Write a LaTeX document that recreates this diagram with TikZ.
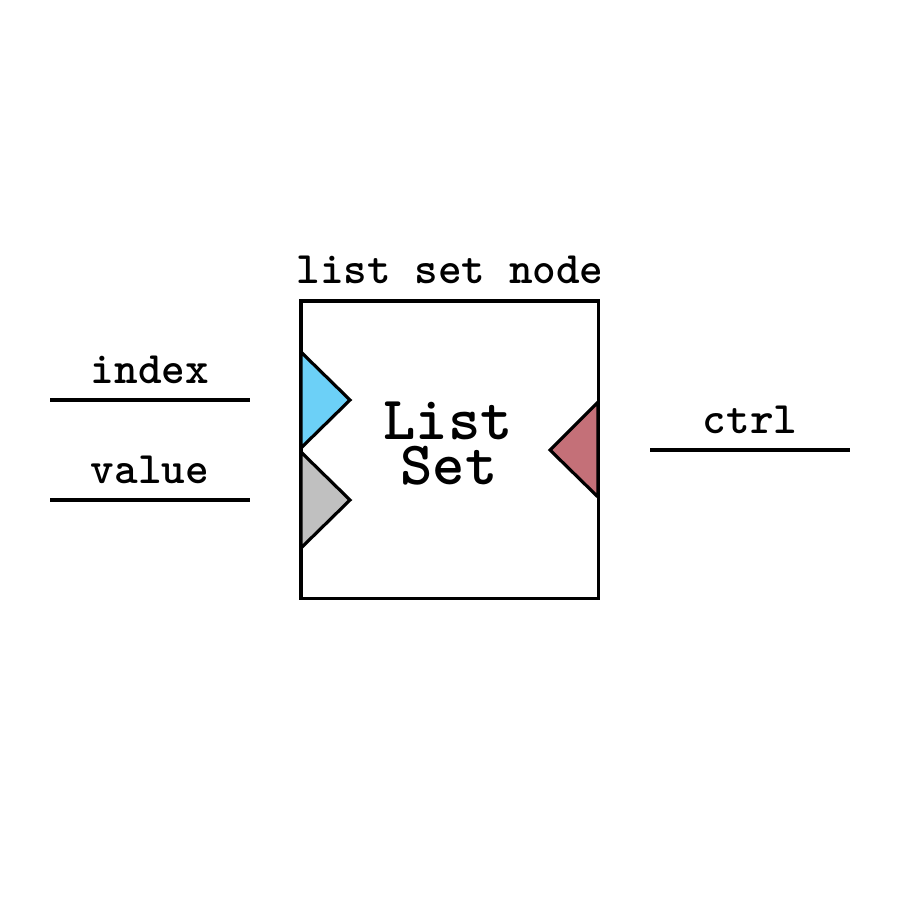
\documentclass[tikz,border=0pt]{standalone}
\usetikzlibrary{positioning}

\definecolor{portblue}{RGB}{108,208,247}
\definecolor{portgray}{RGB}{192,192,192}
\definecolor{portred}{RGB}{196,112,120}

\tikzset{
  wire/.style={line width=0.9pt},
  port/.style={draw, line width=0.9pt, line join=miter},
  tag/.style={font=\ttfamily\bfseries\fontsize{12.8}{14}\selectfont, anchor=base, inner sep=0pt},
  bigtag/.style={font=\ttfamily\bfseries\fontsize{17.5}{19}\selectfont, anchor=base, inner sep=0pt}
}

\begin{document}
\begin{tikzpicture}[x=0.01cm, y=-0.01cm]
\useasboundingbox (0,0) rectangle (900,900);

% block
\node (blk) [draw, line width=0.9pt, minimum width=2.97cm, minimum height=2.97cm, inner sep=0pt] at (449.5,449.5) {};
\node (name1) [bigtag] at (448,439) {List};
\node (name2) [bigtag] at (449,484) {Set};
\node (title) [tag] at (450,283) {list set node};

% ports
\draw[port, fill=portblue] (301,352) -- (350,400) -- (301,448) -- cycle;
\draw[port, fill=portgray] (301,452) -- (350,500) -- (301,548) -- cycle;
\draw[port, fill=portred] (598,402) -- (550,450) -- (598,497) -- cycle;

% wires
\coordinate (ia) at (50,400);  \coordinate (ib) at (250,400);
\coordinate (va) at (50,500);  \coordinate (vb) at (250,500);
\coordinate (ca) at (650,450); \coordinate (cb) at (850,450);
\draw[wire] (ia) -- (ib);
\draw[wire] (va) -- (vb);
\draw[wire] (ca) -- (cb);
\node (index) [tag] at (150,383) {index};
\node (value) [tag] at (150,483) {value};
\node (ctrl) [tag] at (750,433) {ctrl};
\end{tikzpicture}
\end{document}
